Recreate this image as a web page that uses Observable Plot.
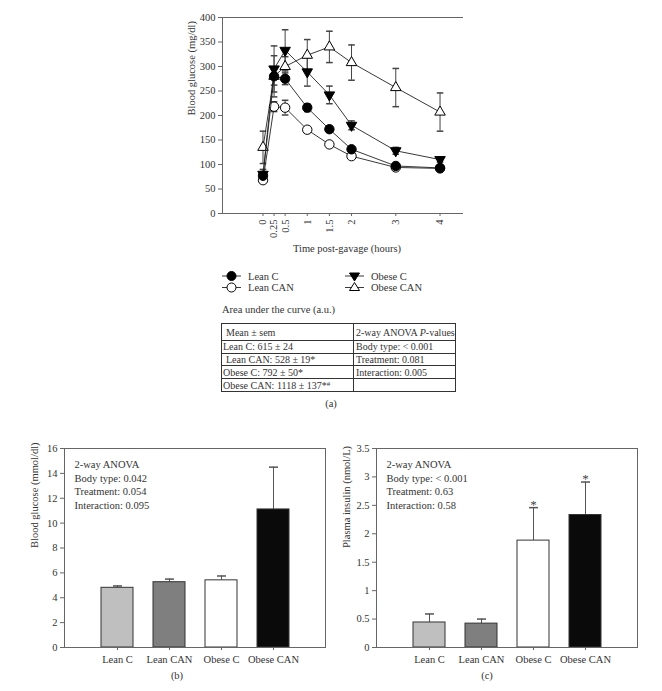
<!DOCTYPE html>
<html><head><meta charset="utf-8">
<script src="https://cdn.jsdelivr.net/npm/d3@7"></script>
<script src="https://cdn.jsdelivr.net/npm/@observablehq/plot@0.6"></script>
<style>
body{margin:0;background:#fff;}
#fig{position:relative;width:662px;height:691px;font-family:"Liberation Serif",serif;color:#333;overflow:hidden;background:#fff;}
.abs{position:absolute;}
.cap{position:absolute;font-size:10.5px;transform:translate(-50%,-50%);white-space:nowrap;}
table.auc{position:absolute;left:221px;top:323px;border-collapse:collapse;font-size:10px;color:#333;}
table.auc td{border:1px solid #333;padding:0 0 0 2px;height:11.7px;line-height:11px;white-space:nowrap;}
table.auc tr.h td{height:16px;}
</style></head><body><div id="fig"></div>
<script>
// ---------- Panel (a): glucose curves ----------
const time = [0, 0.25, 0.5, 1, 1.5, 2, 3, 4];
const timeLabels = ["0", "0.25", "0.5", "1", "1.5", "2", "3", "4"];
const groups = ["Lean C", "Lean CAN", "Obese C", "Obese CAN"];
const leanC = [77, 280, 275, 216, 172, 131, 97, 93];
const leanCSem = [8, 18, 12, 8, 6, 5, 4, 4];
const leanCAN = [68, 218, 216, 171, 141, 117, 94, 92];
const leanCANSem = [5, 10, 15, 6, 6, 5, 4, 4];
const obeseC = [80, 295, 333, 289, 242, 180, 128, 110];
const obeseCSem = [10, 47, 42, 29, 18, 9, 7, 5];
const obeseCAN = [135, 280, 300, 323, 340, 308, 257, 207];
const obeseCANSem = [33, 42, 20, 32, 32, 36, 39, 39];
const yTicksA = [0, 50, 100, 150, 200, 250, 300, 350, 400];

// AUC table
const aucGroups = ["Lean C", "Lean CAN", "Obese C", "Obese CAN"];
const aucMean = [615, 528, 792, 1118];
const aucSem = [24, 19, 50, 137];
const aucMark = ["", "*", "*", "*#"];
const aucAnova = ["Body type: < 0.001", "Treatment: 0.081", "Interaction: 0.005", ""];

// ---------- Panel (b): blood glucose ----------
const glucose = [4.8, 5.25, 5.4, 11.1];
const glucoseSem = [0.15, 0.25, 0.35, 3.4];
const anovaB = ["2-way ANOVA", "Body type: 0.042", "Treatment: 0.054", "Interaction: 0.095"];

// ---------- Panel (c): plasma insulin ----------
const insulin = [0.44, 0.42, 1.88, 2.33];
const insulinSem = [0.15, 0.08, 0.58, 0.58];
const insulinStar = ["", "", "*", "*"];
const anovaC = ["2-way ANOVA", "Body type: < 0.001", "Treatment: 0.63", "Interaction: 0.58"];

const barColors = ["#bfbfbf", "#7f7f7f", "#ffffff", "#0a0a0a"];

// ---------- helpers ----------
const capSymbol = {draw(ctx, size) { const w = Math.sqrt(size / Math.PI); ctx.moveTo(-w, 0); ctx.lineTo(w, 0); }};
const triDown = {draw(ctx, size) { const y = Math.sqrt(size / (3 * Math.sqrt(3))); const s = Math.sqrt(3) * y; ctx.moveTo(0, 2 * y); ctx.lineTo(-s, -y); ctx.lineTo(s, -y); ctx.closePath(); }};
const triUp = {draw(ctx, size) { const y = Math.sqrt(size / (3 * Math.sqrt(3))); const s = Math.sqrt(3) * y; ctx.moveTo(0, -2 * y); ctx.lineTo(-s, y); ctx.lineTo(s, y); ctx.closePath(); }};

const series = [
  {name: "Obese CAN", v: obeseCAN, sem: obeseCANSem, symbol: triUp, fill: "#fff", r: 3.9},
  {name: "Obese C", v: obeseC, sem: obeseCSem, symbol: triDown, fill: "#000", r: 3.9},
  {name: "Lean CAN", v: leanCAN, sem: leanCANSem, symbol: "circle", fill: "#fff", r: 4.7},
  {name: "Lean C", v: leanC, sem: leanCSem, symbol: "circle", fill: "#000", r: 4.7}
];
const rows = series.flatMap(s => time.map((t, i) => ({group: s.name, t, v: s.v[i], sem: s.sem[i]})));

const fig = document.getElementById("fig");
const FONT = {fontFamily: "Liberation Serif, serif", fontSize: "10.5px", color: "#333", background: "transparent"};
const xDomainA = [-0.915, 4.53];

const marksA = [
  Plot.ruleY([yTicksA[yTicksA.length - 1]], {stroke: "#666"}),
  Plot.ruleY([0], {stroke: "#666"}),
  Plot.ruleX([xDomainA[0]], {stroke: "#666"}),
  Plot.axisY({ticks: yTicksA, tickSize: 4, tickPadding: 3, stroke: "#666", fill: "#333", label: null}),
  Plot.axisX({ticks: time, tickFormat: d => timeLabels[time.indexOf(d)], tickRotate: -90, tickSize: 3, tickPadding: 3, stroke: "#666", fill: "#333", label: null}),
  Plot.text(["Blood glucose (mg/dl)"], {frameAnchor: "left", rotate: -90, dx: -31, fill: "#333"}),
  Plot.text(["Time post-gavage (hours)"], {frameAnchor: "bottom", dy: 38, dx: 4, fill: "#333"})
];
for (const s of series) {
  const d = rows.filter(r => r.group === s.name);
  marksA.push(
    Plot.ruleX(d, {x: "t", y1: r => r.v - r.sem, y2: r => r.v + r.sem, stroke: "#444"}),
    Plot.dot(d, {x: "t", y: r => r.v + r.sem, symbol: capSymbol, r: 3.3, fill: "none", stroke: "#444"}),
    Plot.dot(d, {x: "t", y: r => r.v - r.sem, symbol: capSymbol, r: 3.3, fill: "none", stroke: "#444"})
  );
}
for (const s of series) {
  const d = rows.filter(r => r.group === s.name);
  marksA.push(
    Plot.line(d, {x: "t", y: "v", stroke: "#222", strokeWidth: 0.9}),
    Plot.dot(d, {x: "t", y: "v", symbol: s.symbol, r: s.r, fill: s.fill, stroke: "#000", strokeWidth: 1})
  );
}
const plotA = Plot.plot({
  width: 662, height: 262,
  marginLeft: 222, marginRight: 199, marginTop: 17, marginBottom: 49,
  x: {domain: xDomainA},
  y: {domain: [0, 400]},
  style: FONT,
  marks: marksA
});
plotA.style.position = "absolute"; plotA.style.left = "0px"; plotA.style.top = "0px";
fig.appendChild(plotA);

// legend
const legend = [
  {name: "Lean C", col: 0, row: 0, sym: "circle", fill: "#000"},
  {name: "Lean CAN", col: 0, row: 1, sym: "circle", fill: "#fff"},
  {name: "Obese C", col: 1, row: 0, sym: "down", fill: "#000"},
  {name: "Obese CAN", col: 1, row: 1, sym: "up", fill: "#fff"}
];
const colX = [222, 345];
let lg = `<svg class="abs" style="left:0;top:268px" width="662" height="28" font-family="Liberation Serif, serif" font-size="10.5">`;
for (const it of legend) {
  const x0 = colX[it.col], y = 8 + it.row * 11.5, cx = x0 + 9.5;
  lg += `<line x1="${x0}" x2="${x0 + 19}" y1="${y}" y2="${y}" stroke="#222" stroke-width="0.9"/>`;
  if (it.sym === "circle") lg += `<circle cx="${cx}" cy="${y}" r="4.5" fill="${it.fill}" stroke="#000"/>`;
  else if (it.sym === "down") lg += `<path d="M${cx - 5},${y - 3} L${cx + 5},${y - 3} L${cx},${y + 5}Z" fill="#000" stroke="#000"/>`;
  else lg += `<path d="M${cx - 5},${y + 3} L${cx + 5},${y + 3} L${cx},${y - 5}Z" fill="#fff" stroke="#000"/>`;
  lg += `<text x="${x0 + 26}" y="${y}" dy="0.35em" fill="#333">${it.name}</text>`;
}
lg += `</svg>`;
fig.insertAdjacentHTML("beforeend", lg);

// AUC title + table
fig.insertAdjacentHTML("beforeend", `<div class="abs" style="left:222px;top:304px;font-size:10.5px;white-space:nowrap">Area under the curve (a.u.)</div>`);
let tbl = `<table class="auc"><colgroup><col style="width:132px"><col style="width:102px"></colgroup>`;
tbl += `<tr class="h"><td style="padding-left:4px">Mean ± sem</td><td>2-way ANOVA <i>P</i>-values</td></tr>`;
aucGroups.forEach((g, i) => {
  const mark = aucMark[i] === "*#" ? `*<span style="font-size:7px;vertical-align:3px">#</span>` : aucMark[i];
  const pad = i === 1 ? "4px" : "1px";
  tbl += `<tr><td style="padding-left:${pad}">${g}: ${aucMean[i]} ± ${aucSem[i]}${mark}</td><td>${aucAnova[i]}</td></tr>`;
});
tbl += `</table>`;
fig.insertAdjacentHTML("beforeend", tbl);

// ---------- bar charts ----------
function barChart(values, sems, yDomain, yTicks, yLabel, anova, stars, left, mL, mR) {
  const d = groups.map((g, i) => ({group: g, v: values[i], sem: sems[i], star: stars ? stars[i] : ""}));
  const p = Plot.plot({
    width: 331, height: 240,
    marginLeft: mL, marginRight: mR, marginTop: 18, marginBottom: 23,
    x: {domain: groups, paddingInner: 0.39, paddingOuter: 0.68},
    y: {domain: yDomain},
    color: {domain: groups, range: barColors},
    style: FONT,
    marks: [
      Plot.ruleX(d, {x: "group", y1: "v", y2: r => r.v + r.sem, stroke: "#555"}),
      Plot.dot(d, {x: "group", y: r => r.v + r.sem, symbol: capSymbol, r: 4.5, fill: "none", stroke: "#555"}),
      Plot.barY(d, {x: "group", y: "v", fill: "group", stroke: "#333", strokeWidth: 1}),
      Plot.text(d.filter(r => r.star), {x: "group", y: r => r.v + r.sem, text: "star", dy: -3, fontSize: 13, fill: "#444"}),
      Plot.frame({stroke: "#666"}),
      Plot.axisY({ticks: yTicks, tickFormat: t => String(t), tickSize: 4, tickPadding: 3, stroke: "#666", fill: "#333", label: null}),
      Plot.axisX({tickSize: 3, tickPadding: 5, stroke: "#666", fill: "#333", label: null}),
      Plot.text([yLabel], {frameAnchor: "left", rotate: -90, dx: -30, fill: "#333"}),
      Plot.text([anova.join("\n")], {frameAnchor: "top-left", textAnchor: "start", lineAnchor: "top", dx: 10, dy: 10, lineHeight: 1.3, fill: "#333"})
    ]
  });
  p.style.position = "absolute"; p.style.left = left + "px"; p.style.top = "430px";
  fig.appendChild(p);
}
barChart(glucose, glucoseSem, [0, 16], [0, 2, 4, 6, 8, 10, 12, 14, 16], "Blood glucose (mmol/dl)", anovaB, null, 0, 64, 6);
barChart(insulin, insulinSem, [0, 3.5], [0, 0.5, 1, 1.5, 2, 2.5, 3, 3.5], "Plasma insulin (nmol/L)", anovaC, insulinStar, 331, 45, 25);

// captions
fig.insertAdjacentHTML("beforeend", `<div class="cap" style="left:331px;top:403px">(a)</div><div class="cap" style="left:177px;top:675px">(b)</div><div class="cap" style="left:487px;top:675px">(c)</div>`);
</script></body></html>
